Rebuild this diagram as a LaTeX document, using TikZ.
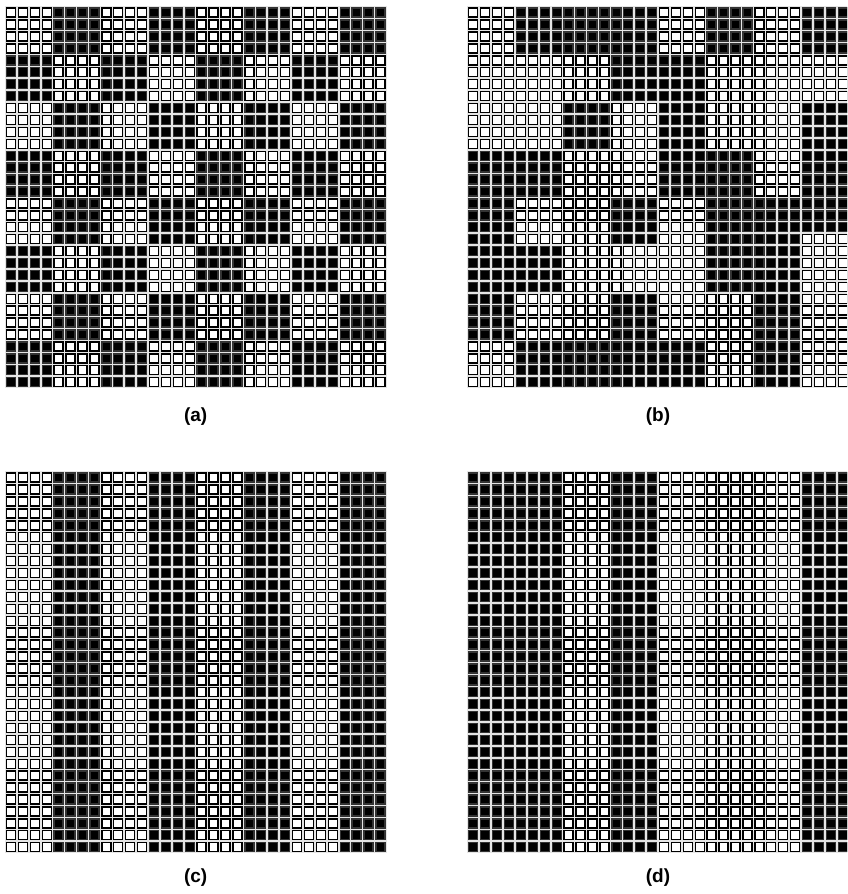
\documentclass[tikz,border=0pt]{standalone}
\usepackage{fontspec}
\setmainfont{Liberation Sans}
\begin{document}
\def\pp{11.92}
\tikzset{
  wcell/.style={draw=black, fill=white, line width=1.4pt},
  bcell/.style={draw=black!80, fill=black, line width=1.4pt},
  gridbg/.style={fill=black!10},
  lab/.style={font=\bfseries\fontsize{19}{22}\selectfont, inner sep=0pt}
}
% X0 Y0 c1 c2 r1 r2 style
\newcommand\mycells[7]{%
  \foreach \cc in {#3,...,#4}{\foreach \rr in {#5,...,#6}{%
    \path[#7] ({#1+\cc*\pp+1.46},{#2+\rr*\pp+1.46}) rectangle ++(9.0,9.0);
  }}}
\newcommand\mypanel[2]{%
  \fill[gridbg] (#1-0.3,#2-0.3) rectangle ++(32*\pp+0.6,32*\pp+0.6);
  \mycells{#1}{#2}{0}{31}{0}{31}{wcell}}
\begin{tikzpicture}[x=1pt,y=-1pt]
\useasboundingbox (0,0) rectangle (847,894);
\clip (0,0) rectangle (847,894);
\fill[white] (0,0) rectangle (847,894);
% ---------- (a) checkerboard
\def\ax{5}\def\ay{6.7}
\mypanel{\ax}{\ay}
\foreach \bi in {0,...,7}{\foreach \bj in {0,...,7}{%
  \pgfmathtruncatemacro\myodd{mod(\bi+\bj,2)}%
  \ifnum\myodd=1
    \pgfmathtruncatemacro\cA{4*\bi}\pgfmathtruncatemacro\cB{4*\bi+3}%
    \pgfmathtruncatemacro\rA{4*\bj}\pgfmathtruncatemacro\rB{4*\bj+3}%
    \mycells{\ax}{\ay}{\cA}{\cB}{\rA}{\rB}{bcell}
  \fi}}
% ---------- (b) irregular
\def\bx{467.3}\def\by{6.7}
\mypanel{\bx}{\by}
\foreach \cA/\cB/\rA/\rB in {4/15/0/3, 20/23/0/3, 28/31/0/3,
  12/19/4/7,
  8/11/8/11, 16/19/8/11, 28/31/8/11,
  0/7/12/15, 16/23/12/15, 28/31/12/15,
  0/3/16/19, 12/15/16/19, 20/27/16/19, 28/31/16/18,
  0/7/20/23, 20/27/20/23,
  0/3/24/27, 12/15/24/27, 24/27/24/27,
  4/19/28/31, 24/27/28/31}{%
  \mycells{\bx}{\by}{\cA}{\cB}{\rA}{\rB}{bcell}}
% ---------- (c) stripes
\def\cx{5}\def\cy{471.7}
\mypanel{\cx}{\cy}
\foreach \cA/\cB in {4/7, 12/15, 20/23, 28/31}{%
  \mycells{\cx}{\cy}{\cA}{\cB}{0}{31}{bcell}}
% ---------- (d) irregular stripes
\def\dx{467.3}\def\dy{471.7}
\mypanel{\dx}{\dy}
\foreach \cA/\cB in {0/7, 12/15, 28/31}{%
  \mycells{\dx}{\dy}{\cA}{\cB}{0}{31}{bcell}}
% ---------- labels
\node[lab] (la) at (195.7,417) {(a)};
\node[lab] (lb) at (658,417) {(b)};
\node[lab] (lc) at (195.7,878) {(c)};
\node[lab] (ld) at (658,878) {(d)};
\end{tikzpicture}
\end{document}
